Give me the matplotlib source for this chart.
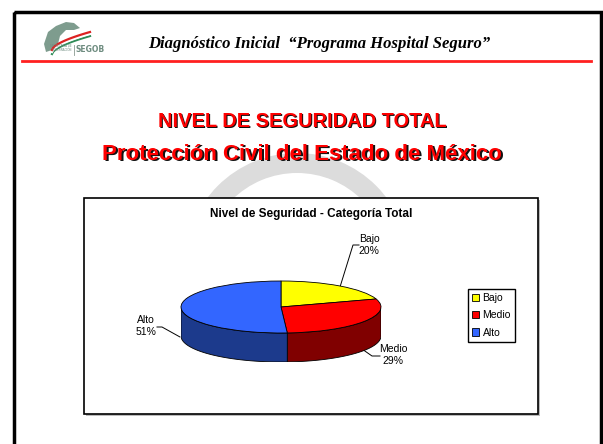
import numpy as np
import matplotlib.pyplot as plt
from matplotlib.patches import Rectangle, Wedge, Polygon

# datos del grafico
categorias = ['Bajo', 'Medio', 'Alto']
valores = [20, 29, 51]
colores_top = ['#FFFF00', '#FF0000', '#3366FF']
colores_lado = ['#808000', '#800000', '#1C3A8C']

titulo1 = 'NIVEL DE SEGURIDAD TOTAL'
titulo2 = 'Protección Civil del Estado de México'
encabezado = 'Diagnóstico Inicial  \u201cPrograma Hospital Seguro\u201d'
titulo_grafico = 'Nivel de Seguridad - Categoría Total'

W, H = 603, 444
fig = plt.figure(figsize=(W / 100, H / 100), dpi=100)

# fondo de la diapositiva en pixeles
bg = fig.add_axes([0, 0, 1, 1])
bg.set_xlim(0, W)
bg.set_ylim(H, 0)
bg.axis('off')

# marco de la diapositiva
bg.add_patch(Rectangle((14, 12), 587, 470, fill=False, edgecolor='black', linewidth=2.5))

# logo (aproximado)
bg.add_patch(Polygon([[44, 44], [48, 32], [56, 26], [66, 22], [74, 23], [80, 28], [74, 30],
                      [66, 30], [60, 36], [58, 44], [52, 50], [46, 52]],
                     closed=True, facecolor='#7E9C8E', edgecolor='none'))
t = np.linspace(0, 1, 30)
for off, c in [(0, '#2E8B57'), (2, '#FFFFFF'), (4, '#DD2222')]:
    bg.plot(52 + 38 * t, 54 - off - 18 * t ** 0.6, color=c, linewidth=1.6)
bg.text(76, 50, 'SEGOB', fontsize=5.5, color='#6E8C80', fontweight='bold',
        family='DejaVu Sans', ha='left', va='center')
bg.plot([74, 74], [45, 55], color='#8A9A90', linewidth=0.6)
bg.text(72, 48, 'SECRETARÍA DE\nGOBERNACIÓN', fontsize=2, color='#6E8C80', ha='right', va='center')

# encabezado
bg.text(319, 44, encabezado, fontsize=12, fontstyle='italic', fontweight='bold',
        family='Liberation Serif', ha='center', va='center')
bg.plot([22, 591], [61, 61], color='#FF2020', linewidth=2)

# marca de agua
bg.add_patch(Wedge((297, 265), 112, 0, 360, width=20, facecolor='#DCDCDC', edgecolor='none'))

# titulos con sombra
for txt, y, fs in [(titulo1, 121, 14.4), (titulo2, 154, 16)]:
    bg.text(302 + 1.5, y + 1.5, txt, fontsize=fs, fontweight='bold', family='Liberation Sans',
            color='#111111', ha='center', va='center')
    bg.text(302, y, txt, fontsize=fs, fontweight='bold', family='Liberation Sans',
            color='#FF0000', ha='center', va='center')

# caja del grafico con sombra
bg.add_patch(Rectangle((86, 200), 454, 216, facecolor='#BBBBBB', edgecolor='none'))
bg.add_patch(Rectangle((84, 198), 454, 216, facecolor='white', edgecolor='black', linewidth=1.2))
bg.text(311, 214, titulo_grafico, fontsize=8.5, fontweight='bold', family='Liberation Sans',
        ha='center', va='center')

# etiquetas de datos
total = sum(valores)
etiquetas = ['%s\n%d%%' % (c, round(v * 100 / total)) for c, v in zip(categorias, valores)]
pos_etiquetas = [(369, 245), (393, 355), (146, 326)]
for e, (x, y) in zip(etiquetas, pos_etiquetas):
    bg.text(x, y, e, fontsize=7.5, family='Liberation Sans', ha='center', va='center',
            linespacing=1.25)
bg.plot([340, 353, 359], [287, 245, 245], color='black', linewidth=0.7)
bg.plot([362, 372, 380], [349, 356, 356], color='black', linewidth=0.7)
bg.plot([157, 162, 180], [327, 327, 337], color='black', linewidth=0.7)

# pastel 3D
d = 29 / 26
ax = fig.add_axes([181 / W, 1 - 362 / H, 200 / W, 81 / H])
ax.pie(valores, colors=colores_top, startangle=90, counterclock=False,
       wedgeprops=dict(edgecolor='black', linewidth=0.6))
ax.set_aspect('auto')
ax.set_xlim(-1.0, 1.0)
ax.set_ylim(-1 - d, 1.0)
ax.axis('off')

acum = np.cumsum([0] + valores) / total * 360
for i in range(len(valores)):
    th1 = 90 - acum[i]
    th2 = 90 - acum[i + 1]
    for k in (-360, 0, 360):
        lo = max(th2, -180 + k)
        hi = min(th1, 0 + k)
        if lo < hi:
            tt = np.radians(np.linspace(lo, hi, 80))
            xs = np.cos(tt)
            ys = np.sin(tt)
            pts = np.column_stack([np.concatenate([xs, xs[::-1]]),
                                   np.concatenate([ys, ys[::-1] - d])])
            ax.add_patch(Polygon(pts, closed=True, facecolor=colores_lado[i],
                                 edgecolor='black', linewidth=0.6, zorder=0.5))

# leyenda
handles = [Rectangle((0, 0), 1, 1, facecolor=c, edgecolor='black', linewidth=0.6) for c in colores_top]
fig.legend(handles, categorias, loc='upper left', bbox_to_anchor=(468 / W, 1 - 289 / H),
           frameon=True, fancybox=False, edgecolor='black', framealpha=1,
           prop={'family': 'Liberation Sans', 'size': 7.5}, handlelength=0.7, handleheight=0.7,
           borderpad=0.4, labelspacing=0.7, handletextpad=0.3, borderaxespad=0)

fig.savefig('out.png', dpi=100)
